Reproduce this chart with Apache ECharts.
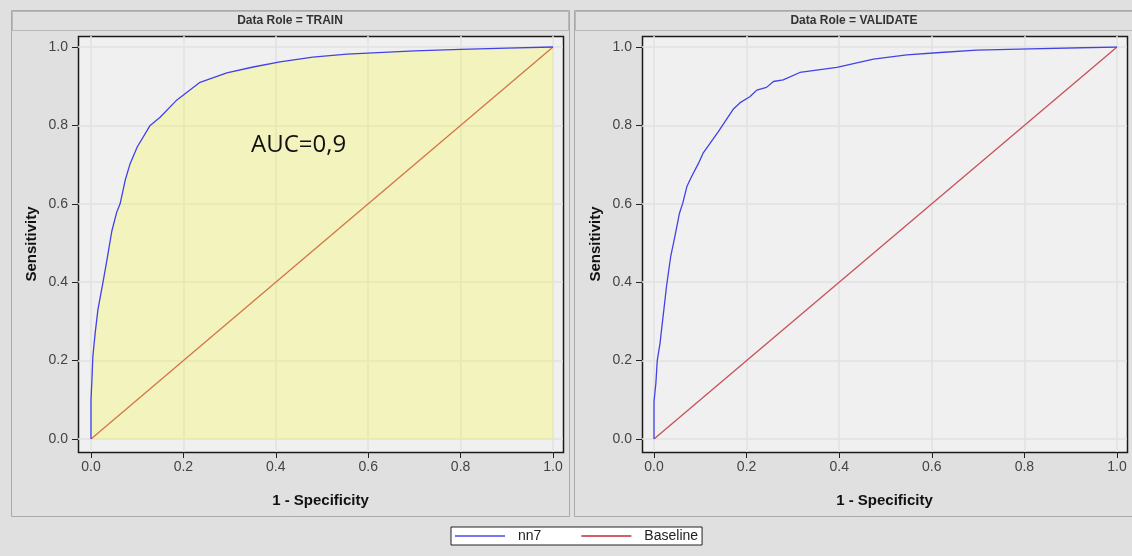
<!DOCTYPE html>
<html lang="en">
<head>
    <meta charset="UTF-8">
    <script src="https://cdn.jsdelivr.net/npm/echarts@6/dist/echarts.min.js"></script>
    <title>ROC</title>
</head>
<body style="margin:0;background:#e0e0e0">
<div id="chart1" style="width:1132px; height:556px"></div>
<script>
// ROC points (1 - specificity, sensitivity)
var trainFpr = [0, 0, 0.002, 0.004, 0.009, 0.015, 0.026, 0.035, 0.045, 0.056, 0.063, 0.074, 0.084, 0.10, 0.128, 0.149, 0.186, 0.236, 0.294, 0.351, 0.409, 0.48, 0.554, 0.61, 0.7, 0.8, 0.9, 1];
var trainTpr = [0, 0.10, 0.15, 0.21, 0.27, 0.33, 0.40, 0.46, 0.53, 0.58, 0.60, 0.66, 0.70, 0.745, 0.80, 0.82, 0.865, 0.91, 0.934, 0.949, 0.962, 0.974, 0.982, 0.985, 0.99, 0.994, 0.997, 1];
var validFpr = [0, 0, 0.004, 0.007, 0.013, 0.017, 0.022, 0.027, 0.033, 0.036, 0.042, 0.049, 0.055, 0.062, 0.071, 0.081, 0.096, 0.106, 0.121, 0.139, 0.153, 0.171, 0.186, 0.207, 0.222, 0.243, 0.258, 0.279, 0.315, 0.395, 0.474, 0.546, 0.618, 0.697, 0.812, 1];
var validTpr = [0, 0.095, 0.142, 0.20, 0.244, 0.286, 0.337, 0.389, 0.44, 0.465, 0.499, 0.54, 0.576, 0.601, 0.644, 0.669, 0.703, 0.729, 0.754, 0.784, 0.809, 0.841, 0.858, 0.873, 0.890, 0.897, 0.912, 0.916, 0.935, 0.948, 0.969, 0.980, 0.986, 0.992, 0.995, 1];
var baseFpr = [0, 1];
var baseTpr = [0, 1];
var tickVals = [0, 0.2, 0.4, 0.6, 0.8, 1.0];
var panelTitles = ['Data Role = TRAIN', 'Data Role = VALIDATE'];
var aucText = 'AUC=0,9';

function pairs(xs, ys) {
    var out = [];
    for (var i = 0; i < xs.length; i++) out.push([xs[i], ys[i]]);
    return out;
}

var fontFam = '"Liberation Sans", Arial, sans-serif';

// inner axes: data area, no ticks or labels
function innerAxis(idx) {
    return {
        type: 'value', gridIndex: idx, min: 0, max: 1, interval: 0.2,
        axisLine: {show: false}, axisTick: {show: false}, axisLabel: {show: false},
        splitLine: {show: false}
    };
}
// outer axes: span the whole frame, carry ticks, labels, gridlines and names
function outerAxis(idx, lo, hi, name, gap, margin) {
    return {
        type: 'value', gridIndex: idx, min: lo, max: hi,
        name: name, nameLocation: 'middle', nameGap: gap,
        nameTextStyle: {fontFamily: fontFam, fontWeight: 'bold', fontSize: 15, color: '#111'},
        axisLine: {show: false, onZero: false},
        axisTick: {show: true, length: 6, customValues: tickVals, lineStyle: {color: '#222'}},
        axisLabel: {fontFamily: fontFam, fontSize: 14, color: '#444', margin: margin,
            customValues: tickVals,
            formatter: function (v) { return v.toFixed(1); }},
        splitLine: {show: true, lineStyle: {color: '#e2e2e2', width: 1.5}}
    };
}

function panel(x0, x1, fx0, fx1, title) {
    return [
        {type: 'rect', z: -20, shape: {x: x0 + 0.5, y: 10.5, width: x1 - x0, height: 506},
            style: {fill: '#e0e0e0', stroke: '#a9a9a9', lineWidth: 1}},
        {type: 'rect', z: -19, shape: {x: x0 + 1.5, y: 11.5, width: x1 - x0 - 2, height: 19},
            style: {fill: '#e0e0e0', stroke: '#b8b8b8', lineWidth: 1}},
        {type: 'text', z: -18, x: (x0 + x1) / 2, y: 21,
            style: {text: title, textAlign: 'center', textVerticalAlign: 'middle',
                font: 'bold 12px ' + fontFam, fill: '#333'}},
        {type: 'rect', z: -15, shape: {x: fx0 + 0.5, y: 36.5, width: fx1 - fx0, height: 416},
            style: {fill: '#f0f0f0', stroke: '#1a1a1a', lineWidth: 1.5}}
    ];
}

var myChart1 = echarts.init(document.getElementById('chart1'));
var option1 = {
    backgroundColor: '#e0e0e0',
    animation: false,
    grid: [
        {left: 91, top: 47, width: 462, height: 392},
        {left: 654, top: 47, width: 463, height: 392},
        {left: 78, top: 36, width: 485, height: 416},
        {left: 642, top: 36, width: 485, height: 416}
    ],
    xAxis: [innerAxis(0), innerAxis(1),
        outerAxis(2, -13 / 462, 1 + 10 / 462, '1 - Specificity', 41, 8),
        outerAxis(3, -12 / 463, 1 + 10 / 463, '1 - Specificity', 41, 8)],
    yAxis: [innerAxis(0), innerAxis(1),
        outerAxis(2, -13 / 392, 1 + 11 / 392, 'Sensitivity', 39, 10),
        outerAxis(3, -13 / 392, 1 + 11 / 392, 'Sensitivity', 39, 10)],
    legend: {
        left: 451, top: 527, width: 256,
        backgroundColor: '#ffffff', borderColor: '#222', borderWidth: 1,
        padding: [2, 4, 2, 4], itemGap: 40, itemWidth: 50, itemHeight: 2, icon: 'rect',
        textStyle: {fontFamily: fontFam, fontSize: 14, color: '#222', padding: [0, 0, 0, 8]},
        data: [
            {name: 'nn7', itemStyle: {color: '#7676ee'}},
            {name: 'Baseline', itemStyle: {color: '#d0606a'}}
        ]
    },
    graphic: panel(11, 569, 78, 563, panelTitles[0])
        .concat(panel(574, 1134, 642, 1127, panelTitles[1]))
        .concat([{type: 'text', z: 50, x: 251, y: 145,
            style: {text: aucText, textVerticalAlign: 'middle',
                font: '24px "Open Sans", sans-serif', fill: '#111'}}]),
    series: [
        {name: 'Baseline', type: 'line', xAxisIndex: 0, yAxisIndex: 0, symbol: 'none', z: 2,
            data: pairs(baseFpr, baseTpr), lineStyle: {color: '#c8505a', width: 1.3}, color: '#c8505a'},
        {name: 'nn7', type: 'line', xAxisIndex: 0, yAxisIndex: 0, symbol: 'none', clip: false, z: 3,
            data: pairs(trainFpr, trainTpr), lineStyle: {color: '#4242e8', width: 1.3}, color: '#4242e8',
            areaStyle: {color: 'rgba(255,255,0,0.3)', origin: 'start'}},
        {name: 'Baseline', type: 'line', xAxisIndex: 1, yAxisIndex: 1, symbol: 'none',
            data: pairs(baseFpr, baseTpr), lineStyle: {color: '#c8505a', width: 1.3}, color: '#c8505a'},
        {name: 'nn7', type: 'line', xAxisIndex: 1, yAxisIndex: 1, symbol: 'none',
            data: pairs(validFpr, validTpr), lineStyle: {color: '#4242e8', width: 1.3}, color: '#4242e8'}
    ]
};
myChart1.setOption(option1);
</script>
</body>
</html>
